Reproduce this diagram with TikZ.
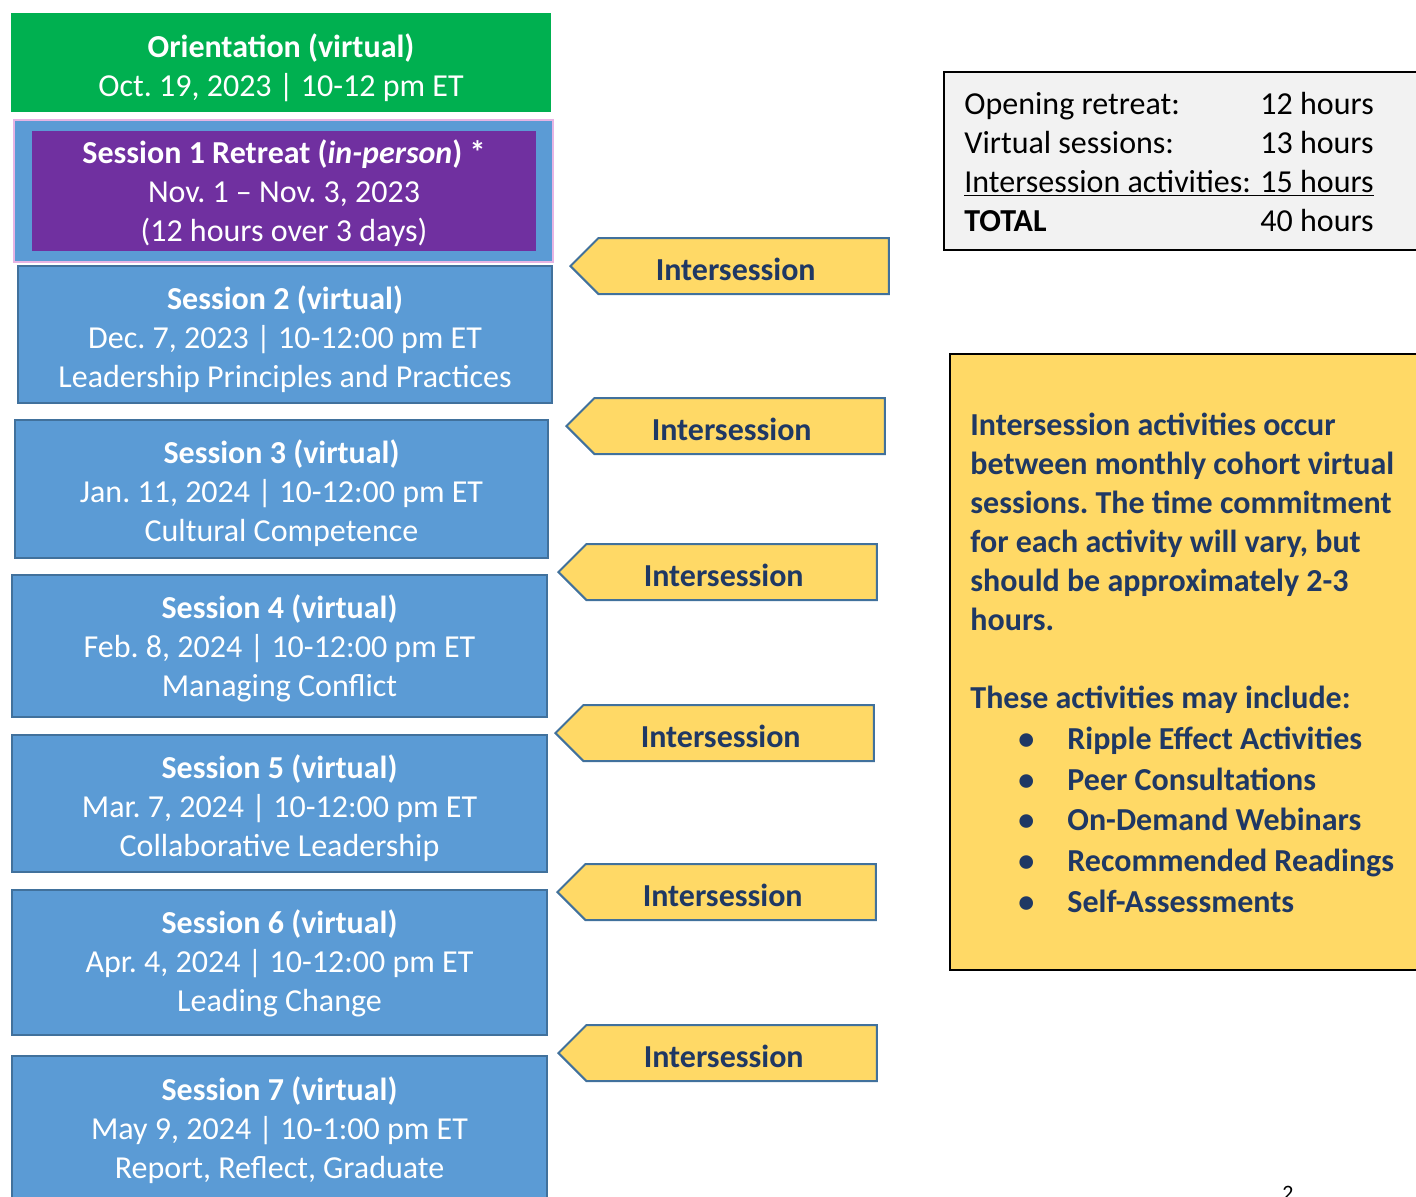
\documentclass[tikz,border=0pt]{standalone}
\usepackage{fontspec}
\setmainfont{Carlito}
\frenchspacing
\usetikzlibrary{shapes.symbols}
\usetikzlibrary{calc}

\definecolor{orientgreen}{HTML}{00B050}
\definecolor{sessblue}{HTML}{5B9BD5}
\definecolor{sessedge}{HTML}{41719C}
\definecolor{retreatpurple}{HTML}{7030A0}
\definecolor{retreatpink}{HTML}{E6B4E4}
\definecolor{intergold}{HTML}{FFD966}
\definecolor{navytext}{HTML}{1F3864}
\definecolor{totalgray}{HTML}{F2F2F2}

\tikzset{
    every node/.style={font=\fontsize{16}{19.5}\selectfont, inner sep=0pt},
    sessbox/.style={rectangle, draw=sessedge, line width=1pt, fill=sessblue,
        minimum width=267.5pt},
    sesstext/.style={text=white, align=center},
    interarrow/.style={signal, signal to=west, signal from=nowhere,
        signal pointer angle=90, draw=sessedge, line width=1pt, fill=intergold,
        text=navytext, font=\fontsize{16}{19.5}\selectfont\bfseries,
        minimum width=159.25pt, minimum height=28pt},
}

\begin{document}
\begin{tikzpicture}[x=0.5pt, y=-0.5pt]
    \useasboundingbox (0,0) rectangle (1416,1196);

    % left column of sessions
    \node[rectangle, fill=orientgreen, minimum width=270pt, minimum height=49.5pt]
        (orient) at (281,62.5) {};
    \node[rectangle, draw=retreatpink, line width=1pt, fill=sessblue,
        minimum width=269.5pt, minimum height=71pt] (s1outer) at (283.5,191) {};
    \node[rectangle, fill=retreatpurple, minimum width=252pt, minimum height=60pt]
        (s1) at (284,191) {};
    \node[sessbox, minimum width=267pt, minimum height=68.5pt] (s2) at (285,334.5) {};
    \node[sessbox, minimum width=266.5pt, minimum height=69pt] (s3) at (281.5,489) {};
    \node[sessbox, minimum height=71pt] (s4) at (279.5,646) {};
    \node[sessbox, minimum height=68.5pt] (s5) at (279.5,803.5) {};
    \node[sessbox, minimum height=72.5pt] (s6) at (279.5,962.5) {};
    \node[sessbox, minimum height=73.5pt] (s7) at (279.5,1129.5) {};

    % session texts
    \node[sesstext] (orienttext) at ([yshift=-2.5pt]orient.center)
        {\textbf{Orientation (virtual)}\\Oct. 19, 2023 | 10-12 pm ET};
    \node[sesstext] (s1text) at ([yshift=-1pt]s1.center)
        {\textbf{Session 1 Retreat (\textit{in-person}) *}\\Nov. 1 -- Nov. 3, 2023\\(12 hours over 3 days)};
    \node[sesstext] (s2text) at ([yshift=-2.5pt]s2.center)
        {\textbf{Session 2 (virtual)}\\Dec. 7, 2023 | 10-12:00 pm ET\\Leadership Principles and Practices};
    \node[sesstext] (s3text) at ([yshift=-2pt]s3.center)
        {\textbf{Session 3 (virtual)}\\Jan. 11, 2024 | 10-12:00 pm ET\\Cultural Competence};
    \node[sesstext] (s4text) at ([yshift=-1pt]s4.center)
        {\textbf{Session 4 (virtual)}\\Feb. 8, 2024 | 10-12:00 pm ET\\Managing Conflict};
    \node[sesstext] (s5text) at ([yshift=-2.5pt]s5.center)
        {\textbf{Session 5 (virtual)}\\Mar. 7, 2024 | 10-12:00 pm ET\\Collaborative Leadership};
    \node[sesstext] (s6text) at ([yshift=-0.5pt]s6.center)
        {\textbf{Session 6 (virtual)}\\Apr. 4, 2024 | 10-12:00 pm ET\\Leading Change};
    \node[sesstext] (s7text) at ([yshift=-0.5pt]s7.center)
        {\textbf{Session 7 (virtual)}\\May 9, 2024 | 10-1:00 pm ET\\Report, Reflect, Graduate};

    % intersession arrows
    \foreach \i/\tx/\ty in {1/569/266, 2/565/426, 3/557/572, 4/554/733, 5/556/892, 6/557/1053}{
        \node[interarrow, anchor=west] (inter\i) at (\tx,\ty)
            {\raisebox{-1.5pt}[\height][\depth]{Intersession}\hspace*{8pt}};
    }

    % hours summary
    \node[rectangle, draw=black, line width=1pt, fill=totalgray, anchor=north west,
        minimum width=245pt, minimum height=89pt] (totals) at (943,71) {};
    \node[anchor=west] (totalstext) at (964,164.7) {%
        \begin{tabular}{@{}p{148pt}@{}l@{}}
            Opening retreat: & 12 hours\\
            Virtual sessions: & 13 hours\\
            \underline{\makebox[148pt][l]{Intersession activities:}} & \underline{15 hours}\\
            \textbf{TOTAL} & 40 hours
        \end{tabular}};

    % note on intersession activities
    \node[rectangle, draw=black, line width=1pt, fill=intergold, anchor=north west,
        minimum width=242pt, minimum height=308pt] (note) at (949,353) {};
    \node[anchor=base west, align=left, text=navytext,
        font=\fontsize{16}{19.5}\selectfont\bfseries] (notetext) at (970,912)
        {Intersession activities occur\\
        between monthly cohort virtual\\
        sessions. The time commitment\\
        for each activity will vary, but\\
        should be approximately 2-3\\
        hours.\\[19.5pt]
        These activities may include:\\[1pt]
        \hspace*{24pt}\makebox[24.5pt][l]{\textbullet}Ripple Effect Activities\\[1pt]
        \hspace*{24pt}\makebox[24.5pt][l]{\textbullet}Peer Consultations\\[0.5pt]
        \hspace*{24pt}\makebox[24.5pt][l]{\textbullet}On-Demand Webinars\\[1pt]
        \hspace*{24pt}\makebox[24.5pt][l]{\textbullet}Recommended Readings\\[1pt]
        \hspace*{24pt}\makebox[24.5pt][l]{\textbullet}Self-Assessments};

    % page number
    \node[anchor=north, font=\fontsize{11}{13}\selectfont] (pagenum) at (1288,1186) {2};
\end{tikzpicture}
\end{document}
